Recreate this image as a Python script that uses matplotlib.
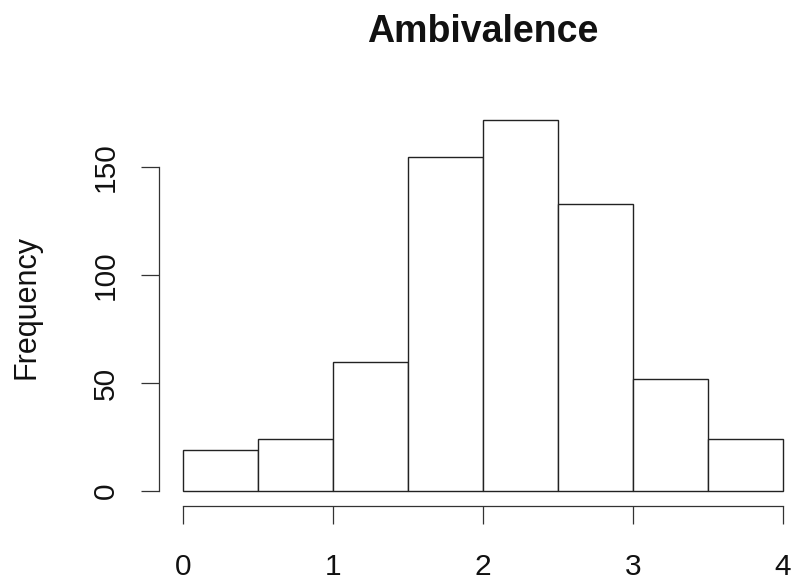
import numpy as np
import matplotlib.pyplot as plt

plt.rcParams['font.family'] = ['Liberation Sans', 'DejaVu Sans']

# histogram of ambivalence scores, bins of width 0.5
bin_edges = [0, 0.5, 1, 1.5, 2, 2.5, 3, 3.5, 4]
counts = [19, 24, 60, 155, 172, 133, 52, 24]
x_ticks = [0, 1, 2, 3, 4]
y_ticks = [0, 50, 100, 150]

W, H = 791, 580
fig = plt.figure(figsize=(W / 100, H / 100), dpi=100)

# plot region in pixels: x 0..4 -> 183..783, y 0 at 491, 2.157 px per count
ymax = 175
left, right, base = 183, 783, 491
top = base - ymax * 2.157
ax = fig.add_axes([left / W, (H - base) / H, (right - left) / W, (base - top) / H])

widths = np.diff(bin_edges)
bars = ax.bar(bin_edges[:-1], counts, width=widths, align='edge',
              facecolor='white', edgecolor='#222222', linewidth=1.0)
for b in bars:
    b.set_clip_on(False)

ax.set_xlim(0, 4)
ax.set_ylim(0, ymax)

# R-style detached axes
for s in ['top', 'right']:
    ax.spines[s].set_visible(False)
ax.spines['left'].set_position(('outward', 17.3))
ax.spines['bottom'].set_position(('outward', 10.8))
ax.spines['left'].set_bounds(0, 150)
ax.spines['bottom'].set_bounds(0, 4)
for s in ['left', 'bottom']:
    ax.spines[s].set_color('#333333')
    ax.spines[s].set_linewidth(0.9)

ax.set_xticks(x_ticks)
ax.set_yticks(y_ticks)
ax.set_xticklabels([str(v) for v in x_ticks])
ax.set_yticklabels([str(v) for v in y_ticks], rotation=90, va='center')
ax.tick_params(axis='both', length=13, width=0.9, color='#333333',
               labelsize=21.5, labelcolor='#111111')
ax.tick_params(axis='x', pad=21)
ax.tick_params(axis='y', pad=15)

fig.text(483 / W, 1 - 42 / H, 'Ambivalence', ha='center', va='baseline',
         fontsize=27, fontweight='bold', color='#111111')
fig.text(27 / W, 1 - 307 / H, 'Frequency', rotation=90, ha='center',
         va='center', fontsize=22, color='#111111')

fig.savefig('out.png', dpi=100)
